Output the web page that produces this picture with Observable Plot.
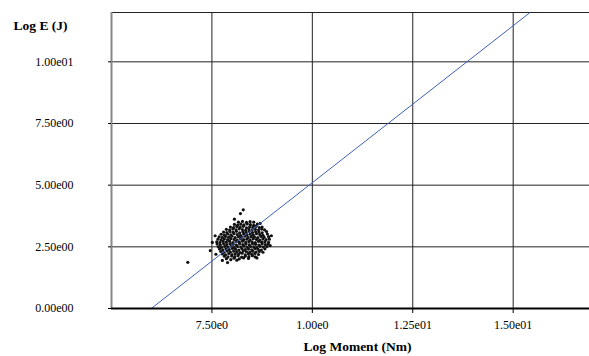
<!DOCTYPE html>
<html>
<head>
<meta charset="utf-8">
<script src="https://cdn.jsdelivr.net/npm/d3@7"></script>
<script src="https://cdn.jsdelivr.net/npm/@observablehq/plot@0.6"></script>
<style>
  html, body { margin: 0; padding: 0; background: #fff; }
  svg, svg text { font-family: "Liberation Serif", "Times New Roman", serif !important; }
</style>
</head>
<body>
<div id="chart"></div>
<script>
// ---- data ----
const xTicks = [7.5, 10, 12.5, 15];
const xTickLabels = ["7.50e0", "1.00e0", "1.25e01", "1.50e01"];
const yTicks = [0, 2.5, 5, 7.5, 10];
const yTickLabels = ["0.00e00", "2.50e00", "5.00e00", "7.50e00", "1.00e01"];
const xTitle = "Log Moment (Nm)";
const yTitle = "Log E (J)";

// fitted line endpoints (Log Moment, Log E)
const fitMoment = [5.99, 15.42];
const fitEnergy = [0, 12];

// observed events [Log Moment, Log E]
const scatterPoints = [
  [7.86,2.02],[7.97,1.98],[8.05,2.04],[8.18,2.01],[8.29,2.05],[8.41,2.03],[8.12,1.96],
  [7.81,2.12],[7.90,2.09],[7.99,2.13],[8.07,2.10],[8.15,2.14],[8.24,2.08],[8.33,2.12],[8.42,2.10],[8.51,2.14],[8.58,2.09],
  [7.76,2.21],[7.84,2.18],[7.92,2.23],[8.00,2.19],[8.08,2.22],[8.16,2.20],[8.25,2.24],[8.33,2.18],[8.41,2.22],[8.49,2.20],[8.57,2.23],[8.66,2.19],
  [7.72,2.31],[7.80,2.28],[7.88,2.33],[7.96,2.29],[8.04,2.32],[8.12,2.30],[8.20,2.27],[8.28,2.33],[8.36,2.30],[8.44,2.28],[8.52,2.32],[8.60,2.29],[8.68,2.31],[8.77,2.28],
  [7.69,2.41],[7.77,2.38],[7.85,2.42],[7.93,2.39],[8.01,2.43],[8.09,2.40],[8.17,2.37],[8.25,2.42],[8.33,2.39],[8.41,2.41],[8.49,2.38],[8.57,2.43],[8.65,2.40],[8.73,2.37],[8.82,2.42],
  [7.66,2.50],[7.74,2.48],[7.82,2.52],[7.90,2.49],[7.98,2.53],[8.06,2.47],[8.14,2.51],[8.22,2.49],[8.30,2.53],[8.38,2.48],[8.46,2.51],[8.54,2.50],[8.62,2.47],[8.70,2.52],[8.78,2.49],[8.87,2.51],
  [7.63,2.61],[7.71,2.58],[7.79,2.62],[7.87,2.59],[7.95,2.63],[8.03,2.60],[8.11,2.57],[8.19,2.62],[8.27,2.59],[8.35,2.61],[8.43,2.58],[8.51,2.63],[8.59,2.60],[8.67,2.57],[8.75,2.62],[8.83,2.59],[8.90,2.61],
  [7.62,2.70],[7.70,2.68],[7.78,2.72],[7.86,2.69],[7.94,2.73],[8.02,2.67],[8.10,2.71],[8.18,2.69],[8.26,2.73],[8.34,2.68],[8.42,2.71],[8.50,2.70],[8.58,2.67],[8.66,2.72],[8.74,2.69],[8.82,2.71],[8.91,2.68],
  [7.65,2.81],[7.73,2.78],[7.81,2.82],[7.89,2.79],[7.97,2.83],[8.05,2.80],[8.13,2.77],[8.21,2.82],[8.29,2.79],[8.37,2.81],[8.45,2.78],[8.53,2.83],[8.61,2.80],[8.69,2.77],[8.77,2.82],[8.85,2.79],[8.93,2.81],
  [7.68,2.90],[7.76,2.88],[7.84,2.92],[7.92,2.89],[8.00,2.93],[8.08,2.87],[8.16,2.91],[8.24,2.89],[8.32,2.93],[8.40,2.88],[8.48,2.91],[8.56,2.90],[8.64,2.87],[8.72,2.92],[8.80,2.89],[8.91,2.91],
  [7.73,3.01],[7.81,2.98],[7.89,3.02],[7.97,2.99],[8.05,3.03],[8.13,3.00],[8.21,2.97],[8.29,3.02],[8.37,2.99],[8.45,3.01],[8.53,2.98],[8.61,3.03],[8.69,3.00],[8.77,2.97],[8.88,3.02],
  [7.79,3.10],[7.87,3.08],[7.95,3.12],[8.03,3.09],[8.11,3.13],[8.19,3.07],[8.27,3.11],[8.35,3.09],[8.43,3.13],[8.51,3.08],[8.59,3.11],[8.67,3.10],[8.75,3.07],[8.86,3.12],
  [7.86,3.21],[7.94,3.18],[8.02,3.22],[8.10,3.19],[8.18,3.23],[8.26,3.20],[8.34,3.17],[8.42,3.22],[8.50,3.19],[8.58,3.21],[8.66,3.18],[8.74,3.22],[8.81,3.19],
  [7.96,3.30],[8.04,3.28],[8.12,3.32],[8.20,3.29],[8.28,3.33],[8.36,3.27],[8.44,3.31],[8.52,3.29],[8.60,3.33],[8.68,3.28],[8.75,3.30],
  [8.06,3.41],[8.14,3.38],[8.22,3.42],[8.30,3.39],[8.38,3.43],[8.46,3.40],[8.54,3.37],[8.63,3.42],
  [8.16,3.50],[8.26,3.53],[8.36,3.49],[8.45,3.52],[8.54,3.50],
  [8.21,3.85],[8.28,4.00],[6.90,1.87],[7.51,2.68],[7.46,2.35],[7.76,1.95],[7.89,1.86],
  [7.60,2.20],[8.62,2.05],[8.95,2.55],[8.98,2.95],[7.58,2.95],[8.06,3.62],[8.70,3.45]
];

// ---- chart ----
const chart = Plot.plot({
  width: 589,
  height: 356,
  marginLeft: 111,
  marginRight: 0,
  marginTop: 12,
  marginBottom: 48,
  style: { fontFamily: "Liberation Serif", fontSize: "12px", color: "#000", background: "#fff" },
  x: { domain: [5, 16.9], label: null },
  y: { domain: [0, 12], label: null },
  marks: [
    Plot.ruleY(yTicks.slice(1).concat([12]), { stroke: "#222", strokeWidth: 1 }),
    Plot.ruleX(xTicks, { y1: 0, y2: 12, stroke: "#222", strokeWidth: 1 }),
    Plot.ruleX([5], { y1: 0, y2: 12, stroke: "#888", strokeWidth: 2 }),
    Plot.dot(scatterPoints, { x: d => d[0], y: d => d[1], r: 1.6, fill: "#111", stroke: "none" }),
    Plot.line(fitMoment.map((m, i) => [m, fitEnergy[i]]), { x: d => d[0], y: d => d[1], stroke: "#4060b8", strokeWidth: 1 }),
    Plot.ruleY([0], { stroke: "#000", strokeWidth: 2 }),
    Plot.axisX({ ticks: xTicks, tickFormat: d => xTickLabels[xTicks.indexOf(d)], tickSize: 5, tickPadding: 7, label: null, stroke: "#000" }),
    Plot.axisY({ ticks: yTicks, tickFormat: d => yTickLabels[yTicks.indexOf(d)], tickSize: 3, tickPadding: 35, label: null, stroke: "#000" }),
    Plot.text([xTitle], { frameAnchor: "bottom", dy: 42, dx: 7, fontWeight: "bold", fontSize: 13.5 }),
    Plot.text([yTitle], { frameAnchor: "top-left", dx: -98, dy: 8, textAnchor: "start", fontWeight: "bold", fontSize: 13.5 })
  ]
});
document.getElementById("chart").appendChild(chart);
</script>
</body>
</html>
